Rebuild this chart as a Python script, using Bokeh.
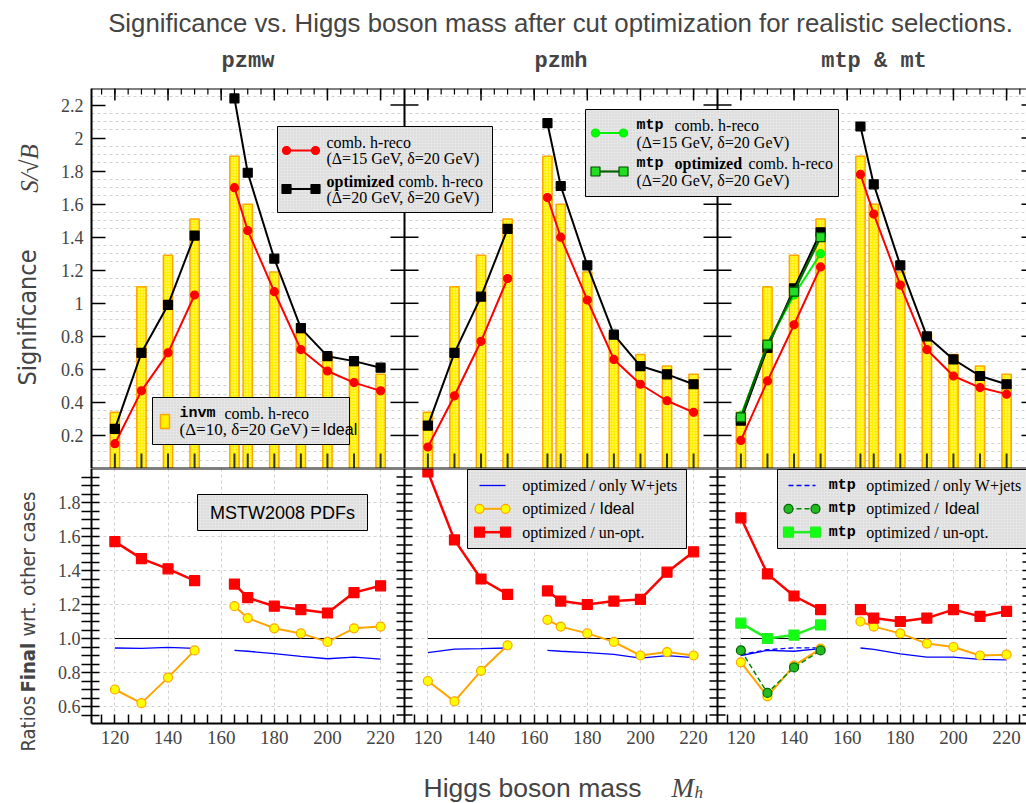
import math
from bokeh.plotting import figure
from bokeh.layouts import row, column
from bokeh.models import (Range1d, FixedTicker, LinearAxis, Label, BoxAnnotation,
                          NumeralTickFormatter, Grid, Span, CustomJSTickFormatter)
from bokeh.embed import file_html
from bokeh.resources import INLINE

# ---------------- data ----------------
mass = [120, 130, 140, 150, 165, 170, 180, 190, 200, 210, 220]
mass_mtp = [120, 130, 140, 150]

ideal = [0.34, 1.10, 1.29, 1.51, 1.89, 1.60, 1.19, 0.82, 0.69, 0.62, 0.57]

pzmw_comb = [0.15, 0.47, 0.70, 1.05, 1.70, 1.44, 1.07, 0.72, 0.59, 0.52, 0.47]
pzmw_opt = [0.24, 0.70, 0.99, 1.41, 2.24, 1.79, 1.27, 0.85, 0.68, 0.65, 0.61]
pzmh_comb = [0.13, 0.44, 0.77, 1.15, 1.64, 1.40, 1.02, 0.66, 0.51, 0.41, 0.34]
pzmh_opt = [0.26, 0.70, 1.04, 1.45, 2.09, 1.71, 1.23, 0.81, 0.62, 0.57, 0.51]
mt_comb = [0.17, 0.53, 0.87, 1.22, 1.78, 1.54, 1.11, 0.72, 0.56, 0.49, 0.45]
mt_opt = [0.29, 0.73, 1.09, 1.43, 2.07, 1.72, 1.23, 0.80, 0.66, 0.56, 0.51]
mtp_comb = [0.32, 0.75, 1.05, 1.30]
mtp_opt = [0.31, 0.75, 1.07, 1.40]

pzmw_r_wjets = [0.944, 0.942, 0.948, 0.942, 0.930, 0.925, 0.911, 0.895, 0.881, 0.891, 0.879]
pzmw_r_ideal = [0.70, 0.62, 0.77, 0.93, 1.19, 1.12, 1.06, 1.03, 0.98, 1.06, 1.07]
pzmw_r_unopt = [1.57, 1.47, 1.41, 1.34, 1.32, 1.24, 1.19, 1.17, 1.15, 1.27, 1.31]
pzmh_r_wjets = [0.917, 0.938, 0.940, 0.944, 0.930, 0.925, 0.917, 0.907, 0.885, 0.899, 0.887]
pzmh_r_ideal = [0.75, 0.63, 0.81, 0.96, 1.11, 1.07, 1.03, 0.98, 0.90, 0.92, 0.90]
pzmh_r_unopt = [1.98, 1.58, 1.35, 1.26, 1.28, 1.22, 1.20, 1.22, 1.23, 1.39, 1.51]
mt_r_wjets = [0.90, 0.93, 0.925, 0.94, 0.944, 0.936, 0.909, 0.891, 0.891, 0.877, 0.874]
mt_r_ideal = [0.86, 0.66, 0.84, 0.94, 1.10, 1.07, 1.03, 0.97, 0.95, 0.90, 0.905]
mt_r_unopt = [1.71, 1.38, 1.25, 1.17, 1.17, 1.12, 1.10, 1.12, 1.17, 1.13, 1.16]
mtp_r_wjets = [0.906, 0.934, 0.945, 0.945]
mtp_r_ideal = [0.93, 0.68, 0.83, 0.93]
mtp_r_unopt = [1.09, 1.00, 1.02, 1.08]

x_tick_labels = [120, 140, 160, 180, 200, 220]
y_ticks_top = [0.2, 0.4, 0.6, 0.8, 1.0, 1.2, 1.4, 1.6, 1.8, 2.0, 2.2]
y_ticks_bottom = [0.6, 0.8, 1.0, 1.2, 1.4, 1.6, 1.8]

panel_titles = ["pzmw", "pzmh", "mtp & mt"]
main_title = "Significance vs. Higgs boson mass after cut optimization for realistic selections."

# ---------------- styling / geometry ----------------
SERIF = "Liberation Serif"
SANS = "Liberation Sans"
MONO = "Liberation Mono"
NARROW = "DejaVu Sans Condensed, Roboto"

PXU = 2.657            # px per GeV
XL = 111.2             # left end of every panel's x range
P = 313 / PXU          # width of one panel in GeV
FW = 935               # px width of the frame holding the three panels
FRAME_L = 91
P3_VIS = 309 / PXU     # visible part of the third panel
TOP_Y = (0.0, 2.3)
BOT_Y = (0.5, 2.0)
YPX_T = 380 / 2.3
YPX_B = 255 / 1.5
RN = ["default", "p2", "p3"]

x_minor = list(range(115, 230, 5))
top_grid = [round(0.05 * k, 2) for k in range(1, 46) if k % 4]
bot_minor = [round(0.05 * k, 2) for k in range(11, 41) if (k - 12) % 4]
bot_all_y = sorted(y_ticks_bottom + bot_minor)

RED = "#FF0000"
ORANGE = "#FFA500"
YELLOW = "#FFFF00"
BLUE = "#0000FF"
LGREEN = "#00EE00"
DGREEN = "#006400"
GRIDC = "#D0D0D0"


def make_row(kind):
    if kind == "top":
        yr, height, top_px, frame_h, bt, bb = TOP_Y, 388, 88, 380, 8, 0
    else:
        yr, height, top_px, frame_h, bt, bb = BOT_Y, 294, 468, 255, 0, 39
    xr = (XL, XL + FW / PXU)
    p = figure(width=976, height=height, x_range=Range1d(*xr), y_range=Range1d(*yr),
               x_axis_type=None, y_axis_type=None, output_backend="svg",
               toolbar_location=None, min_border_left=41, min_border_right=0,
               min_border_top=bt, min_border_bottom=bb)
    p.extra_x_ranges = {"p2": Range1d(XL - P, XL - P + FW / PXU),
                        "p3": Range1d(XL - 2 * P, XL - 2 * P + FW / PXU)}
    p.outline_line_color = None
    p.background_fill_color = "white"
    p.border_fill_color = "white"
    info = {"fig": p, "l": FRAME_L, "t": top_px, "w": FW, "h": frame_h, "xr": xr, "yr": yr}
    return p, info


def to_data(pn, px, py):
    x = pn["xr"][0] + (px - pn["l"]) * (pn["xr"][1] - pn["xr"][0]) / pn["w"]
    y = pn["yr"][0] + (pn["t"] + pn["h"] - py) * (pn["yr"][1] - pn["yr"][0]) / pn["h"]
    return x, y


def series(p, rn, xs, ys, color, width, marker=None, size=8, fill=None, mline=None,
           dash="solid", split=True):
    if split and len(xs) > 4:
        parts = [(xs[:4], ys[:4]), (xs[4:], ys[4:])]
    else:
        parts = [(xs, ys)]
    for a, b in parts:
        p.line(a, b, line_color=color, line_width=width, line_dash=dash, x_range_name=rn)
    if marker:
        p.scatter(xs, ys, marker=marker, size=size, fill_color=fill or color,
                  line_color=mline or color, line_width=1.2, x_range_name=rn)


def vticks(p, rn, x0, length_gev, ys, width=1.5):
    p.segment(x0=[x0] * len(ys), y0=ys, x1=[x0 + length_gev] * len(ys), y1=ys,
              line_color="black", line_width=width, x_range_name=rn)


def hticks(p, rn, xs, y0, length_y, color="black", width=1.5):
    p.segment(x0=xs, y0=[y0] * len(xs), x1=xs, y1=[y0 + length_y] * len(xs),
              line_color=color, line_width=width, x_range_name=rn)


def add_box(pn, x0, x1, y0, y1):
    l, t = to_data(pn, x0, y0)
    r, b = to_data(pn, x1, y1)
    pn["fig"].add_layout(BoxAnnotation(left=l, right=r, top=t, bottom=b,
                                       fill_color="#E6E6E6", fill_alpha=1.0,
                                       line_color="black", line_alpha=1.0, line_width=1,
                                       hatch_pattern="dot", hatch_color="#D0D0D0",
                                       hatch_scale=3, hatch_alpha=1.0))


def add_text(pn, px, py, text, font=SERIF, size="16px", style="normal", align="left"):
    x, y = to_data(pn, px, py)
    pn["fig"].add_layout(Label(x=x, y=y, text=text, text_font=font, text_font_size=size,
                               text_font_style=style, text_align=align,
                               text_baseline="middle", text_color="black"))


def sample(pn, x0, x1, py, color, width, dash="solid", marker=None, size=8, fill=None,
           mline=None):
    a, y = to_data(pn, x0, py)
    b, _ = to_data(pn, x1, py)
    pn["fig"].line([a, b], [y, y], line_color=color, line_width=width, line_dash=dash,
                   level="overlay")
    if marker:
        pn["fig"].scatter([a, b], [y, y], marker=marker, size=size, fill_color=fill or color,
                          line_color=mline or color, line_width=1.2, level="overlay")


def text_fig(w, h, xr, yr):
    p = figure(width=w, height=h, x_range=Range1d(*xr), y_range=Range1d(*yr),
               x_axis_type=None, y_axis_type=None, output_backend="svg",
               toolbar_location=None, min_border=0)
    p.outline_line_color = None
    return p


# ================= top row (significance) =================
TF, tinfo = make_row("top")
TF.add_layout(Grid(dimension=1, ticker=FixedTicker(ticks=top_grid),
                   grid_line_color=GRIDC, grid_line_dash="3 3", grid_line_width=1))
TF.add_layout(LinearAxis(ticker=FixedTicker(ticks=y_ticks_top),
                         formatter=NumeralTickFormatter(format="0.[0]"),
                         major_tick_in=14, major_tick_out=0, minor_tick_line_color=None,
                         axis_line_width=2, major_tick_line_width=1.5,
                         major_label_text_font=SERIF, major_label_text_font_size="18px",
                         major_label_standoff=8), "left")

for k, (comb, opt) in enumerate(((pzmw_comb, pzmw_opt), (pzmh_comb, pzmh_opt),
                                 (mt_comb, mt_opt))):
    rn = RN[k]
    TF.vbar(x=mass, top=ideal, bottom=0, width=3.5, fill_color="#FFF000",
            line_color=ORANGE, line_width=1.5, hatch_pattern="dot",
            hatch_color="#FFFFA8", hatch_scale=3, hatch_weight=1, x_range_name=rn)
    series(TF, rn, mass, comb, RED, 2, marker="circle", size=8)
    series(TF, rn, mass, opt, "black", 2, marker="square", size=9)
    # frame ticks of this panel
    if k > 0:
        vticks(TF, rn, XL, 14 / PXU, y_ticks_top)
    right_end = XL + (P if k < 2 else P3_VIS)
    vticks(TF, rn, right_end, -(14 if k < 2 else 5) / PXU, y_ticks_top)
    hticks(TF, rn, x_minor, TOP_Y[1], -6 / YPX_T, width=1.2)
    hticks(TF, rn, x_tick_labels, TOP_Y[1], -12 / YPX_T)
    hticks(TF, rn, mass, TOP_Y[0], 15 / YPX_T, color="#333333", width=2)

series(TF, "p3", mass_mtp, mtp_comb, LGREEN, 2, marker="circle", size=8, fill="#00FF00")
series(TF, "p3", mass_mtp, mtp_opt, DGREEN, 2.2, marker="square", size=9, fill="#22DD22",
       mline="#005000")

for loc in (XL + P, XL + 2 * P):
    TF.add_layout(Span(location=loc, dimension="height", line_color="black", line_width=2))
TF.add_layout(Span(location=TOP_Y[1], dimension="width", line_color="black", line_width=2))
TF.add_layout(Span(location=TOP_Y[0], dimension="width", line_color="black", line_width=2))

# legends (top row)
add_box(tinfo, 277, 492, 126, 212)
sample(tinfo, 286, 315, 150, RED, 2, marker="circle", size=8)
sample(tinfo, 286, 315, 188.5, "black", 2, marker="square", size=9)
add_text(tinfo, 326, 141.5, "comb. h-reco")
add_text(tinfo, 326, 158, "(\u0394=15 GeV, \u03b4=20 GeV)")
add_text(tinfo, 326, 180.5, "optimized", style="bold")
add_text(tinfo, 398, 180.5, "comb. h-reco")
add_text(tinfo, 326, 197, "(\u0394=20 GeV, \u03b4=20 GeV)")

add_box(tinfo, 152, 349, 397, 444)
lx0, ly0 = to_data(tinfo, 160, 428)
lx1, ly1 = to_data(tinfo, 169, 414)
TF.quad(left=lx0, right=lx1, bottom=ly0, top=ly1, fill_color="#FFF000", line_color=ORANGE,
        line_width=1.5, level="overlay")
add_text(tinfo, 179, 413, "invm", font=MONO, size="15px", style="bold")
add_text(tinfo, 224, 413, "comb. h-reco")
add_text(tinfo, 179, 429, "(\u0394=10, \u03b4=20 GeV)", size="17px")
add_text(tinfo, 310, 429, "=", size="17px")
add_text(tinfo, 322, 429, "Ideal", font=SANS, size="16px")

add_box(tinfo, 585, 838, 109, 196)
sample(tinfo, 595, 623, 132.5, LGREEN, 2, marker="circle", size=8, fill="#00FF00")
sample(tinfo, 595, 623, 171, DGREEN, 2.2, marker="square", size=9, fill="#22DD22",
       mline="#005000")
add_text(tinfo, 636, 125, "mtp", font=MONO, size="15px", style="bold")
add_text(tinfo, 674, 125, "comb. h-reco")
add_text(tinfo, 636, 141.7, "(\u0394=15 GeV, \u03b4=20 GeV)")
add_text(tinfo, 636, 163.3, "mtp", font=MONO, size="15px", style="bold")
add_text(tinfo, 674, 163.3, "optimized", style="bold")
add_text(tinfo, 748, 163.3, "comb. h-reco")
add_text(tinfo, 636, 179.5, "(\u0394=20 GeV, \u03b4=20 GeV)")

# ================= bottom row (ratios) =================
BF, binfo = make_row("bot")
bot_x_major = [v + k * P for k in range(3) for v in x_tick_labels]
bot_x_minor = [v + k * P for k in range(3) for v in x_minor if v not in x_tick_labels]
BF.add_layout(Grid(dimension=0, ticker=FixedTicker(ticks=bot_x_major),
                   grid_line_color=GRIDC, grid_line_dash="3 3", grid_line_width=1))
BF.add_layout(Grid(dimension=1, ticker=FixedTicker(ticks=y_ticks_bottom),
                   grid_line_color=GRIDC, grid_line_dash="3 3", grid_line_width=1))
BF.add_layout(LinearAxis(ticker=FixedTicker(ticks=y_ticks_bottom, minor_ticks=bot_minor),
                         formatter=NumeralTickFormatter(format="0.0"),
                         major_tick_in=8, major_tick_out=10, minor_tick_in=8, minor_tick_out=10,
                         major_tick_line_width=1.5, minor_tick_line_width=1.5,
                         axis_line_width=2, major_label_text_font=SERIF,
                         major_label_text_font_size="18px", major_label_standoff=1), "left")
BF.add_layout(LinearAxis(ticker=FixedTicker(ticks=bot_x_major, minor_ticks=bot_x_minor),
                         formatter=CustomJSTickFormatter(
                             args=dict(P=P, XL=XL),
                             code="const k = Math.floor((tick - XL) / P);"
                                  "return String(Math.round(tick - k * P));"),
                         major_tick_in=9, major_tick_out=0, minor_tick_in=9, minor_tick_out=0,
                         major_tick_line_width=1.5, minor_tick_line_width=1.5,
                         axis_line_width=2, major_label_text_font=SERIF,
                         major_label_text_font_size="19px", major_label_standoff=7), "below")

for k, (wj, idl, un) in enumerate(((pzmw_r_wjets, pzmw_r_ideal, pzmw_r_unopt),
                                   (pzmh_r_wjets, pzmh_r_ideal, pzmh_r_unopt),
                                   (mt_r_wjets, mt_r_ideal, mt_r_unopt))):
    rn = RN[k]
    BF.line([mass[0], mass[-1]], [1.0, 1.0], line_color="black", line_width=1.2,
            x_range_name=rn)
    series(BF, rn, mass, wj, BLUE, 1.3)
    if k == 2:
        series(BF, rn, mass_mtp, mtp_r_wjets, BLUE, 1.3, dash="5 3")
    series(BF, rn, mass, idl, ORANGE, 2, marker="circle", size=9, fill=YELLOW, mline=ORANGE)
    if k == 2:
        series(BF, rn, mass_mtp, mtp_r_ideal, "#008800", 1.5, dash="5 3", marker="circle",
               size=9, fill="#22BB22", mline="#006600")
    series(BF, rn, mass, un, RED, 2.5, marker="square", size=10)
    if k == 2:
        series(BF, rn, mass_mtp, mtp_r_unopt, "#22EE22", 2.5, marker="square", size=10,
               fill="#11FF11")
    if k > 0:
        vticks(BF, rn, XL, 8 / PXU, bot_all_y)
    right_end = XL + (P if k < 2 else P3_VIS)
    vticks(BF, rn, right_end, -(8 if k < 2 else 4) / PXU, bot_all_y)

for loc in (XL + P, XL + 2 * P):
    BF.add_layout(Span(location=loc, dimension="height", line_color="black", line_width=2))
BF.add_layout(Span(location=BOT_Y[1], dimension="width", line_color="black", line_width=2))

# legends (bottom row)
add_box(binfo, 197, 367, 494, 530)
add_text(binfo, 282, 512, "MSTW2008 PDFs", font=SANS, size="18px", align="center")

add_box(binfo, 467, 686, 469, 548)
sample(binfo, 479, 505, 485, BLUE, 1.3)
sample(binfo, 479, 505, 508.3, ORANGE, 2, marker="circle", size=9, fill=YELLOW, mline=ORANGE)
sample(binfo, 479, 505, 531.7, RED, 2.5, marker="square", size=10)
add_text(binfo, 521.7, 485, "optimized / only W+jets")
add_text(binfo, 521.7, 508.3, "optimized /")
add_text(binfo, 599, 508.3, "Ideal", font=SANS, size="16px")
add_text(binfo, 521.7, 531.7, "optimized / un-opt.")

add_box(binfo, 777, 1040, 469, 548)
sample(binfo, 788, 815, 485, BLUE, 1.3, dash="5 3")
sample(binfo, 788, 815, 508.3, "#008800", 1.5, dash="5 3", marker="circle", size=9,
       fill="#22BB22", mline="#006600")
sample(binfo, 788, 815, 531.7, "#22EE22", 2.5, marker="square", size=10, fill="#11FF11")
for yy in (485, 508.3, 531.7):
    add_text(binfo, 828.3, yy, "mtp", font=MONO, size="15px", style="bold")
add_text(binfo, 865.7, 485, "optimized / only W+jets")
add_text(binfo, 865.7, 508.3, "optimized /")
add_text(binfo, 944, 508.3, "Ideal", font=SANS, size="16px")
add_text(binfo, 865.7, 531.7, "optimized / un-opt.")

# ================= outer texts =================
title_fig = text_fig(1026, 80, (0, 1026), (80, 0))
title_fig.add_layout(Label(x=560, y=22, text=main_title, text_font=SANS,
                           text_font_size="25.8px", text_align="center",
                           text_baseline="middle"))
for cx, t in zip((247.5, 560.5, 873.5), panel_titles):
    title_fig.add_layout(Label(x=cx, y=61, text=t, text_font=MONO, text_font_size="22px",
                               text_font_style="bold", text_align="center",
                               text_baseline="middle"))

ylab = text_fig(50, 682, (0, 50), (762, 80))
ylab.add_layout(Label(x=27, y=317, text="Significance", angle=math.pi / 2,
                      text_font=NARROW, text_font_size="25px", text_align="center",
                      text_baseline="middle"))
ylab.add_layout(Label(x=29, y=168, text="S/\u221aB", angle=math.pi / 2,
                      text_font=SERIF, text_font_style="italic", text_font_size="25px",
                      text_align="center", text_baseline="middle"))
ylab.add_layout(Label(x=27, y=751, text="Ratios", angle=math.pi / 2, text_font=NARROW,
                      text_font_size="20px", text_align="left", text_baseline="middle"))
ylab.add_layout(Label(x=27, y=692, text="Final", angle=math.pi / 2, text_font=NARROW,
                      text_font_size="20px", text_font_style="bold", text_align="left",
                      text_baseline="middle"))
ylab.add_layout(Label(x=27, y=636, text="wrt. other cases", angle=math.pi / 2,
                      text_font=NARROW, text_font_size="20px", text_align="left",
                      text_baseline="middle"))

xlab = text_fig(1026, 41, (0, 1026), (803, 762))
xlab.add_layout(Label(x=423, y=787, text="Higgs boson mass", text_font=SANS,
                      text_font_size="26.5px", text_align="left", text_baseline="middle"))
xlab.add_layout(Label(x=671, y=787, text="M", text_font=SERIF, text_font_style="italic",
                      text_font_size="27px", text_align="left", text_baseline="middle"))
xlab.add_layout(Label(x=694, y=792, text="h", text_font=SERIF, text_font_style="italic",
                      text_font_size="17px", text_align="left", text_baseline="middle"))

layout = column(title_fig, row(ylab, column(TF, BF)), xlab)

open("out.html", "w").write(file_html(layout, INLINE))
